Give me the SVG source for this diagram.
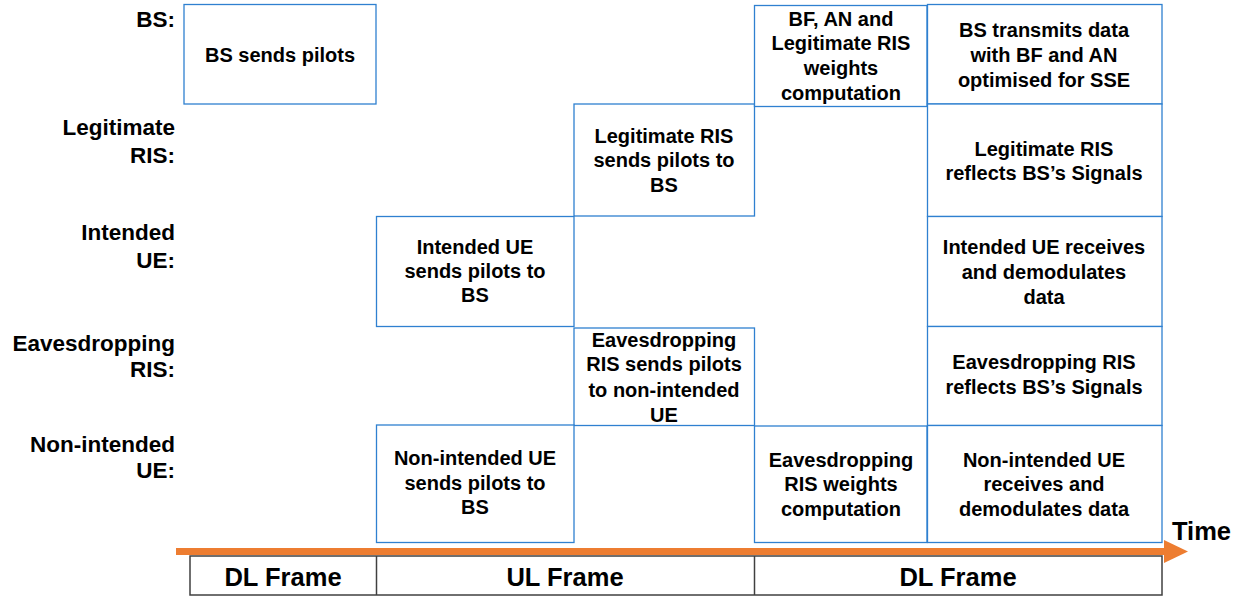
<svg xmlns="http://www.w3.org/2000/svg" width="1242" height="596" viewBox="0 0 1242 596">
<style>
.box{fill:#ffffff;stroke:#2F80D0;stroke-width:1.3}
.bt{font-family:"Liberation Sans",Arial,sans-serif;font-weight:bold;font-size:20px;fill:#000;text-anchor:middle}
.lb{font-family:"Liberation Sans",Arial,sans-serif;font-weight:bold;font-size:22.5px;fill:#000;text-anchor:end}
.fr{fill:#ffffff;stroke:#404040;stroke-width:1.5}
.ft{font-family:"Liberation Sans",Arial,sans-serif;font-weight:bold;font-size:25.5px;fill:#000;text-anchor:middle}
</style>
<rect width="1242" height="596" fill="#ffffff"/>
<g id="labels">
<text class="lb" x="175" y="27">BS:</text>
<text class="lb" x="175" y="135">Legitimate</text>
<text class="lb" x="175" y="163">RIS:</text>
<text class="lb" x="175" y="240">Intended</text>
<text class="lb" x="175" y="268">UE:</text>
<text class="lb" x="175" y="351">Eavesdropping</text>
<text class="lb" x="175" y="377">RIS:</text>
<text class="lb" x="175" y="452">Non-intended</text>
<text class="lb" x="175" y="478">UE:</text>
</g>
<g id="bs-pilots">
<rect class="box" x="184" y="4.5" width="192" height="99.5"/>
<text class="bt" x="280" y="62">BS sends pilots</text>
</g>
<g id="legit-ris-pilots">
<rect class="box" x="574" y="104" width="180.5" height="112"/>
<text class="bt" x="664" y="143">Legitimate RIS</text>
<text class="bt" x="664" y="167">sends pilots to</text>
<text class="bt" x="664" y="192">BS</text>
</g>
<g id="intended-ue-pilots">
<rect class="box" x="376.5" y="216.5" width="197.5" height="110"/>
<text class="bt" x="475" y="254">Intended UE</text>
<text class="bt" x="475" y="278">sends pilots to</text>
<text class="bt" x="475" y="302">BS</text>
</g>
<g id="eaves-ris-pilots">
<rect class="box" x="574" y="328" width="180.5" height="97.5"/>
<text class="bt" x="664" y="347">Eavesdropping</text>
<text class="bt" x="664" y="371">RIS sends pilots</text>
<text class="bt" x="664" y="396.5">to non-intended</text>
<text class="bt" x="664" y="421.5">UE</text>
</g>
<g id="non-intended-ue-pilots">
<rect class="box" x="376.5" y="425" width="197.5" height="117.5"/>
<text class="bt" x="475" y="465">Non-intended UE</text>
<text class="bt" x="475" y="489.5">sends pilots to</text>
<text class="bt" x="475" y="514">BS</text>
</g>
<g id="bf-an-computation">
<rect class="box" x="754.5" y="5.5" width="172.5" height="101"/>
<text class="bt" x="841" y="26">BF, AN and</text>
<text class="bt" x="841" y="50">Legitimate RIS</text>
<text class="bt" x="841" y="75">weights</text>
<text class="bt" x="841" y="100">computation</text>
</g>
<g id="eaves-ris-computation">
<rect class="box" x="754.5" y="426" width="172.5" height="116.5"/>
<text class="bt" x="841" y="467">Eavesdropping</text>
<text class="bt" x="841" y="491">RIS weights</text>
<text class="bt" x="841" y="516">computation</text>
</g>
<g id="bs-transmits">
<rect class="box" x="927.5" y="4.5" width="234.5" height="99.5"/>
<text class="bt" x="1044" y="37">BS transmits data</text>
<text class="bt" x="1044" y="62">with BF and AN</text>
<text class="bt" x="1044" y="87">optimised for SSE</text>
</g>
<g id="legit-ris-reflects">
<rect class="box" x="927.5" y="104" width="234.5" height="112.5"/>
<text class="bt" x="1044" y="155.5">Legitimate RIS</text>
<text class="bt" x="1044" y="180">reflects BS’s Signals</text>
</g>
<g id="intended-ue-receives">
<rect class="box" x="927.5" y="216.5" width="234.5" height="110"/>
<text class="bt" x="1044" y="253.5">Intended UE receives</text>
<text class="bt" x="1044" y="278.5">and demodulates</text>
<text class="bt" x="1044" y="303.5">data</text>
</g>
<g id="eaves-ris-reflects">
<rect class="box" x="927.5" y="326.5" width="234.5" height="99"/>
<text class="bt" x="1044" y="368.5">Eavesdropping RIS</text>
<text class="bt" x="1044" y="393.5">reflects BS’s Signals</text>
</g>
<g id="non-intended-ue-receives">
<rect class="box" x="927.5" y="425.5" width="234.5" height="117"/>
<text class="bt" x="1044" y="467">Non-intended UE</text>
<text class="bt" x="1044" y="491">receives and</text>
<text class="bt" x="1044" y="516">demodulates data</text>
</g>
<g id="connectors">
<rect x="176" y="548" width="990" height="7" fill="#ED7D31"/>
<polygon points="1164,540 1188,551.5 1164,563" fill="#ED7D31"/>
<text x="1172" y="540" font-family="Liberation Sans, Arial, sans-serif" font-weight="bold" font-size="25.5" fill="#000">Time</text>
</g>
<g id="frames">
<rect class="fr" x="190" y="556" width="972" height="39"/>
<line x1="376.5" y1="556" x2="376.5" y2="595" stroke="#404040" stroke-width="1.5"/>
<line x1="754.5" y1="556" x2="754.5" y2="595" stroke="#404040" stroke-width="1.5"/>
<text class="ft" x="283" y="585.5">DL Frame</text>
<text class="ft" x="565" y="585.5">UL Frame</text>
<text class="ft" x="958" y="585.5">DL Frame</text>
</g>
</svg>
